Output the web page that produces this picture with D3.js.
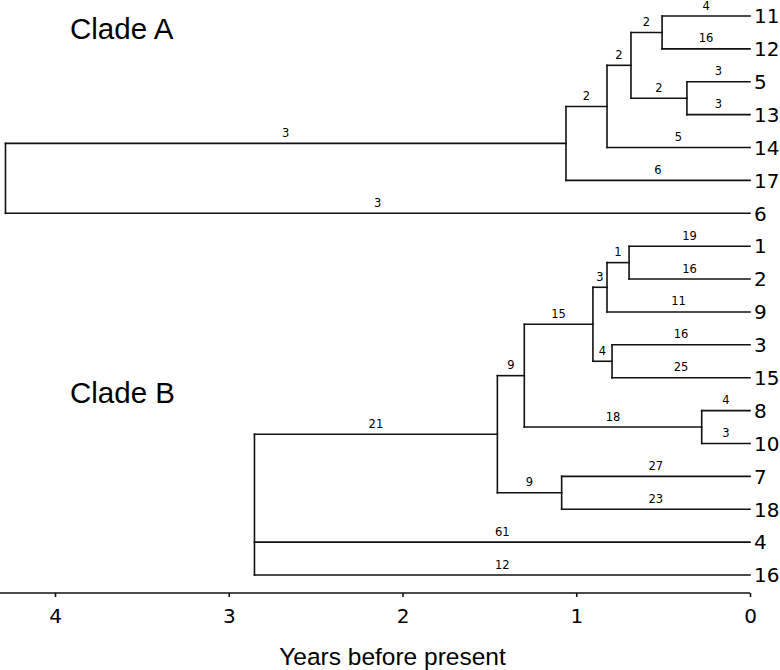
<!DOCTYPE html>
<html>
<head>
<meta charset="utf-8">
<script src="https://cdn.jsdelivr.net/npm/d3@7"></script>
<style>
  html, body { margin: 0; padding: 0; background: #fff; }
  svg { display: block; }
</style>
</head>
<body>
<svg id="chart" width="780" height="670"></svg>
<script>
// ---- data ----
const leafOrder = ["11","12","5","13","14","17","6","1","2","9","3","15","8","10","7","18","4","16"];
const nodeIds   = ["top","rA","cA","a1","a2","a3","a4","11","12","5","13","14","17","6",
                   "rB","b1","b2","b3","b4","b5","b6","b7","b8","1","2","9","3","15","8","10","7","18","4","16"];
const parentIds = ["","top","rA","cA","a1","a2","a2","a3","a3","a4","a4","a1","cA","rA",
                   "top","rB","b1","b1","b2","b2","b4","b4","b6","b8","b8","b6","b7","b7","b5","b5","b3","b3","rB","rB"];
const nodeTimes = [null,4.285,1.059,0.823,0.685,0.506,0.363,0,0,0,0,0,0,0,
                   2.852,1.454,1.299,1.084,0.904,0.278,0.823,0.794,0.696,0,0,0,0,0,0,0,0,0,0,0];
const branchLabels = ["","","3","2","2","2","2","4","16","3","3","5","6","3",
                      "","21","9","9","15","18","3","4","1","19","16","11","16","25","4","3","27","23","61","12"];
const axisTicks = [4,3,2,1,0];
const axisTitle = "Years before present";
const cladeNames = ["Clade A","Clade B"];

// ---- scales ----
const x = d3.scaleLinear().domain([0, 4]).range([750, 55]);
const y = d3.scalePoint().domain(leafOrder).range([16, 575]);

const svg = d3.select("#chart");

const table = nodeIds.map((id, i) => ({id, parent: parentIds[i] || null, t: nodeTimes[i], lab: branchLabels[i]}));
const root = d3.stratify().id(d => d.id).parentId(d => d.parent)(table);

root.eachAfter(n => {
  if (!n.children) { n.py = y(n.id); }
  else { n.py = (n.children[0].py + n.children[n.children.length - 1].py) / 2; }
  n.px = n.data.t == null ? null : x(n.data.t);
});

const g = svg.append("g");
const stroke = "#111", sw = 1.6;

// vertical connectors
root.descendants().filter(n => n.children && n.px != null).forEach(n => {
  g.append("line")
    .attr("x1", n.px).attr("x2", n.px)
    .attr("y1", n.children[0].py).attr("y2", n.children[n.children.length - 1].py)
    .attr("stroke", stroke).attr("stroke-width", sw).attr("stroke-linecap", "square");
});

// horizontal branches + labels
root.descendants().filter(n => n.parent && n.parent.px != null).forEach(n => {
  g.append("line")
    .attr("x1", n.parent.px).attr("x2", n.px)
    .attr("y1", n.py).attr("y2", n.py)
    .attr("stroke", stroke).attr("stroke-width", sw).attr("stroke-linecap", "square");
  if (n.data.lab) {
    g.append("text")
      .attr("x", (n.parent.px + n.px) / 2)
      .attr("y", n.py - 6.5)
      .attr("text-anchor", "middle")
      .attr("font-family", "DejaVu Sans")
      .attr("font-size", 11.5)
      .attr("fill", "#000")
      .text(n.data.lab);
  }
});

// leaf labels
root.leaves().forEach(n => {
  g.append("text")
    .attr("x", n.px + 4)
    .attr("y", n.py + 7.3)
    .attr("font-family", "DejaVu Sans")
    .attr("font-size", 20)
    .attr("fill", "#000")
    .text(n.id);
});

// clade titles
svg.append("text").attr("x", 70).attr("y", 38.5)
  .attr("font-family", "Liberation Sans, Arial, sans-serif").attr("font-size", 29.5)
  .text(cladeNames[0]);
svg.append("text").attr("x", 70).attr("y", 403)
  .attr("font-family", "Liberation Sans, Arial, sans-serif").attr("font-size", 29.5)
  .text(cladeNames[1]);

// axis
const axis = d3.axisBottom(x).tickValues(axisTicks).tickFormat(d3.format("d"))
  .tickSize(4).tickSizeOuter(0).tickPadding(11.5);
const ag = svg.append("g").attr("transform", "translate(0,593)").call(axis);
ag.select(".domain").attr("d", `M0,0H${x(0)}`).attr("stroke", stroke).attr("stroke-width", sw);
ag.selectAll(".tick line").attr("stroke", stroke).attr("stroke-width", sw);
ag.selectAll(".tick text").attr("font-family", "DejaVu Sans").attr("font-size", 20).attr("fill", "#000");

svg.append("text").attr("x", 392.5).attr("y", 665)
  .attr("text-anchor", "middle")
  .attr("font-family", "Liberation Sans, Arial, sans-serif").attr("font-size", 24.5)
  .text(axisTitle);
</script>
</body>
</html>
